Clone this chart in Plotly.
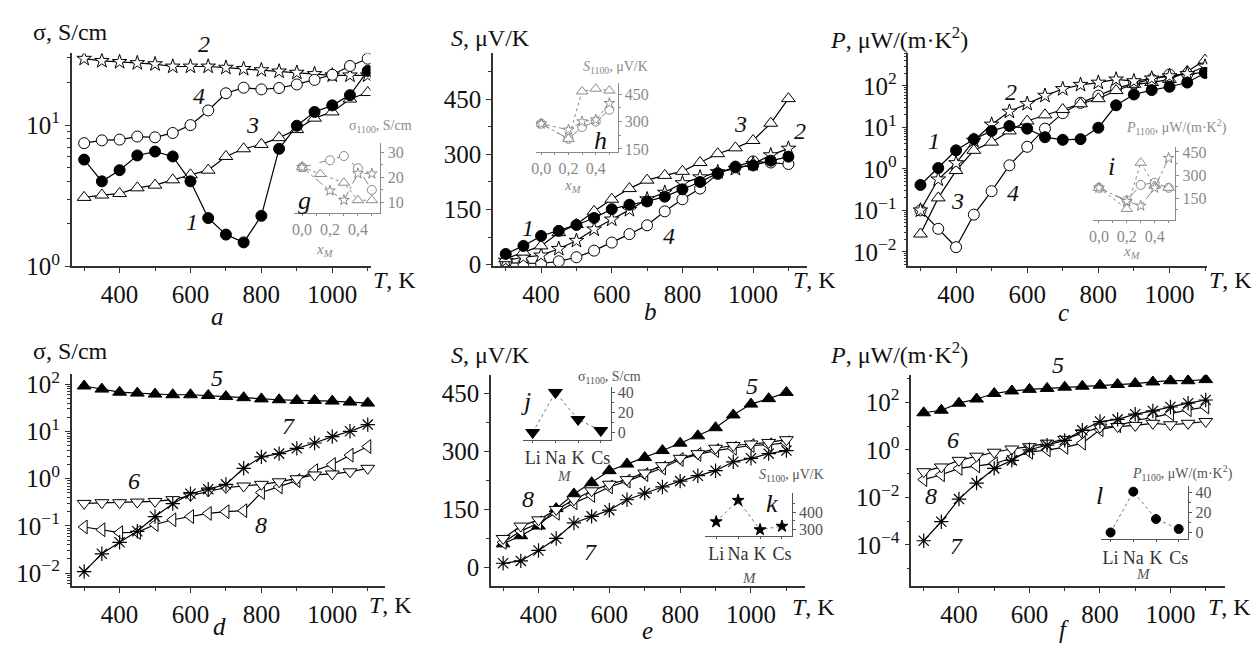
import plotly.graph_objects as go

W, H = 1253, 657
FONT = "Liberation Serif, Times New Roman, Times, serif"

# ---------------- data ----------------
T = [300, 350, 400, 450, 500, 550, 600, 650, 700, 750, 800, 850, 900, 950, 1000, 1050, 1100]

# panel a: sigma, S/cm
a1 = [5.7, 4.0, 4.8, 6.1, 6.5, 6.0, 4.0, 2.2, 1.68, 1.48, 2.28, 6.8, 9.9, 12.4, 13.8, 16.3, 24.2]
a2 = [29.5, 28.5, 28.0, 27.5, 27.0, 26.0, 26.0, 26.0, 25.5, 25.0, 24.5, 24.0, 23.5, 23.0, 22.5, 22.5, 22.5]
a3 = [3.08, 3.2, 3.28, 3.6, 3.76, 4.1, 4.45, 4.8, 6.0, 6.8, 7.3, 8.15, 9.3, 11.2, 12.4, 15.3, 17.0]
a4 = [7.45, 7.8, 7.9, 8.3, 8.2, 8.8, 10.0, 12.7, 16.8, 18.4, 17.9, 18.3, 19.4, 20.9, 22.7, 26.2, 29.5]

# panel b: S, uV/K
b1 = [29, 51, 78, 92, 108, 127, 151, 163, 172, 185, 205, 225, 249, 265, 270, 283, 294]
b2 = [11, 20, 25, 43, 65, 96, 123, 149, 178, 196, 222, 238, 252, 261, 274, 298, 316]
b3 = [16, 34, 51, 87, 109, 145, 178, 207, 230, 243, 254, 278, 302, 318, 338, 385, 452]
b4 = [5, 3, 3, 9, 20, 38, 60, 83, 107, 145, 178, 207, 247, 267, 281, 278, 274]

# panel c: P, uW/(m K^2)
c1 = [0.41, 1.05, 2.8, 5.2, 8.2, 10.8, 9.3, 5.8, 5.0, 5.2, 9.8, 34, 62, 79, 95, 120, 205]
c2 = [0.1, 0.56, 1.38, 4.8, 11.7, 24, 37, 58, 84, 106, 120, 143, 130, 151, 171, 193, 293]
c3 = [0.027, 0.2, 0.91, 2.8, 4.4, 8.2, 14.2, 20, 27, 37, 49, 77, 109, 120, 143, 223, 417]
c4 = [0.1, 0.036, 0.013, 0.079, 0.29, 1.22, 3.4, 9.3, 22, 39, 58, 88, 113, 143, 187, 190, 215]

# panel d: sigma, S/cm
d5 = [92, 79, 68, 65, 62, 60, 60, 58, 55, 52, 49, 47, 45.5, 45.5, 44, 42, 40]
d6 = [0.30, 0.31, 0.31, 0.32, 0.33, 0.36, 0.44, 0.55, 0.65, 0.70, 0.76, 0.86, 1.0, 1.2, 1.26, 1.4, 1.66]
d7 = [0.0108, 0.0257, 0.045, 0.077, 0.158, 0.296, 0.48, 0.6, 0.76, 1.66, 2.9, 3.4, 4.4, 5.7, 7.8, 10.1, 14]
d8 = [0.095, 0.083, 0.072, 0.073, 0.107, 0.135, 0.158, 0.184, 0.2, 0.21, 0.51, 0.67, 0.91, 1.48, 2.0, 3.15, 4.8]

# panel e: S, uV/K
e5 = [61, 82, 107, 152, 190, 219, 250, 267, 284, 302, 321, 340, 361, 394, 422, 436, 452]
e6 = [75, 107, 123, 150, 175, 198, 215, 227, 244, 263, 282, 294, 308, 315, 319, 323, 330]
e7 = [11, 17, 44, 75, 115, 132, 148, 175, 192, 208, 223, 237, 250, 273, 282, 294, 302]
e8 = [65, 94, 115, 140, 167, 186, 208, 223, 240, 257, 279, 292, 302, 308, 315, 317, 322]

# panel f: P, uW/(m K^2)
f5 = [36, 46, 91, 136, 232, 297, 347, 380, 430, 470, 520, 555, 610, 710, 800, 800, 890]
f6 = [0.12, 0.19, 0.36, 0.54, 0.79, 1.08, 1.35, 1.9, 2.75, 5.1, 9.0, 9.5, 10.6, 13, 11.3, 13, 15.5]
f7 = [1.5e-4, 9.5e-4, 8.5e-3, 0.04, 0.165, 0.36, 1.0, 1.57, 2.5, 6.6, 15.4, 19, 31.5, 43, 63, 91, 124]
f8 = [0.056, 0.089, 0.165, 0.21, 0.26, 0.45, 0.79, 1.0, 1.26, 1.9, 7.0, 10.2, 17, 23, 33, 48, 63]

# insets vs x_M
xM = [0.0, 0.2, 0.3, 0.4, 0.5]
xM_tri_g = [0.0, 0.13, 0.3, 0.4, 0.5]
g_circ = [24, 26.8, 28.5, 23.6, 14.9]
g_tri = [24, 21.3, 17.8, 10.8, 10.8]
g_star = [24, 14.6, 10.8, 21.5, 21.4]

h_tri = [288, 205, 465, 480, 470]
h_circ = [288, 205, 270, 300, 365]
h_star = [288, 255, 300, 310, 400]

i_circ = [217, 135, 236, 250, 217]
i_tri = [217, 80, 380, 230, 217]
i_star = [217, 130, 100, 217, 410]

# insets vs M
M = ["Li", "Na", "K", "Cs"]
j_sigma = [0, 40, 13, 2]
k_S = [345, 467, 300, 320]
l_P = [0, 41, 13.5, 3.5]

# inset tick values
g_ticks = [10, 20, 30]
h_ticks = [150, 300, 450]
i_ticks = [150, 300, 450]
j_ticks = [0, 20, 40]
k_ticks = [300, 400]
l_ticks = [0, 20, 40]

# ---------------- helpers ----------------
fig = go.Figure()
layout = {}

def xd(p0, p1):
    return [p0 / W, p1 / W]

def yd(ptop, pbot):
    return [1 - pbot / H, 1 - ptop / H]

def axname(n, kind):
    return kind + ("axis" if n == 1 else "axis%d" % n)

def ref(n, kind):
    return kind if n == 1 else "%s%d" % (kind, n)

def log_minor(lo, hi):
    vals = []
    for d in range(lo, hi + 1):
        for k in range(2, 10):
            vals.append(k * 10.0 ** d)
    return vals

AX = "#333"
TF = 25
def main_axes(n, xpx, ypx, xr, yr, ytype, yticks=None, ydtick=None, yminor=None, yminor_dtick=None):
    layout[axname(n, "x")] = dict(
        domain=xd(*xpx), range=xr, anchor=ref(n, "y"), showline=True, linecolor=AX, linewidth=1.5,
        ticks="outside", ticklen=5, tickwidth=1.3, tickcolor=AX, tick0=0, dtick=200,
        minor=dict(dtick=100, ticks="outside", ticklen=3, tickcolor=AX, tickwidth=1),
        tickfont=dict(family=FONT, size=TF, color="#111"), showgrid=False, zeroline=False)
    y = dict(domain=yd(*ypx), range=yr, anchor=ref(n, "x"), type=ytype, showline=True, linecolor=AX,
             linewidth=1.5, ticks="outside", ticklen=5, tickwidth=1.3, tickcolor=AX,
             tickfont=dict(family=FONT, size=TF, color="#111"), showgrid=False, zeroline=False)
    if yticks is not None:
        y["tickmode"] = "array"
        y["tickvals"] = yticks[0]
        y["ticktext"] = yticks[1]
    if ydtick is not None:
        y["tick0"] = 0
        y["dtick"] = ydtick
    if yminor is not None:
        y["minor"] = dict(tickmode="array", tickvals=yminor, ticks="outside", ticklen=3, tickcolor=AX, tickwidth=1)
    if yminor_dtick is not None:
        y["minor"] = dict(dtick=yminor_dtick, ticks="outside", ticklen=3, tickcolor=AX, tickwidth=1)
    layout[axname(n, "y")] = y

def inset_axes(n, xpx, ypx, xr, yr, yticks, xcat, color, fsize=16):
    xa = dict(domain=xd(*xpx), range=xr, anchor=ref(n, "y"), showline=True, linecolor=color, linewidth=1,
              ticks="outside", ticklen=2, tickcolor=color, tickfont=dict(family=FONT, size=fsize, color=color),
              showgrid=False, zeroline=False)
    if xcat:
        xa.update(tickmode="array", tickvals=[0, 1, 2, 3], ticktext=M,
                  tickfont=dict(family=FONT, size=18, color="#333"))
    else:
        xa.update(tickmode="array", tickvals=[0, 0.2, 0.4], ticktext=["0,0", "0,2", "0,4"],
                  minor=dict(tickmode="array", tickvals=[0.1, 0.3, 0.5], ticks="outside", ticklen=2, tickcolor=color))
    layout[axname(n, "x")] = xa
    step = yticks[1] - yticks[0]
    mvals = [v + step / 2 for v in [yticks[0] - step] + yticks]
    layout[axname(n, "y")] = dict(
        domain=yd(*ypx), range=yr, anchor=ref(n, "x"), side="right", showline=True, linecolor=color,
        linewidth=1, ticks="outside", ticklen=3, tickcolor=color, tickmode="array", tickvals=yticks,
        minor=dict(tickmode="array", tickvals=mvals, ticks="outside", ticklen=2, tickcolor=color),
        tickfont=dict(family=FONT, size=fsize, color=color), showgrid=False, zeroline=False)

def add(n, x, y, sym, fill, size, lc="black", lw=1.2, dash="solid", mlc="black", mlw=1.0):
    fig.add_trace(go.Scatter(
        x=x, y=y, xaxis=ref(n, "x"), yaxis=ref(n, "y"), mode="lines+markers",
        line=dict(color=lc, width=lw, dash=dash),
        marker=dict(symbol=sym, color=fill, size=size, line=dict(color=mlc, width=mlw)),
        showlegend=False, hoverinfo="skip"))

# ---------------- main axes ----------------
sup = lambda e: "10<sup>%s</sup>" % e
main_axes(1, (67, 367), (48, 268), [265, 1108], [0, 1.507], "log",
          yticks=([1, 10], [sup("0"), sup("1")]), yminor=log_minor(0, 1))
main_axes(2, (490, 805), (48, 268), [264, 1152], [-5, 575], "linear", ydtick=150, yminor_dtick=75)
main_axes(3, (907, 1207), (48, 268), [266, 1106], [-2.35, 2.78], "log",
          yticks=([0.01, 0.1, 1, 10, 100], [sup("−2"), sup("−1"), sup("0"), sup("1"), sup("2")]),
          yminor=log_minor(-3, 2))
main_axes(4, (67, 382), (379, 598), [265, 1150], [-2.27, 2.22], "log",
          yticks=([0.01, 0.1, 1, 10, 100], [sup("−2"), sup("−1"), sup("0"), sup("1"), sup("2")]),
          yminor=log_minor(-3, 2))
main_axes(5, (488, 803), (380, 598), [266, 1152], [-47.5, 497.5], "linear", ydtick=150, yminor_dtick=75)
main_axes(6, (910, 1225), (380, 598), [265, 1155], [-5.72, 3.15], "log",
          yticks=([1e-4, 1e-2, 1, 100], [sup("−4"), sup("−2"), sup("0"), sup("2")]),
          yminor=[10.0 ** d for d in range(-6, 4) if d not in (-4, -2, 0, 2)])

# ---------------- inset axes ----------------
GI = "#8a8a8a"
GJ = "#555"
inset_axes(7, (290, 377), (140, 213), [-0.059, 0.562], [5.6, 33.9], g_ticks, False, GI)
inset_axes(8, (533, 615), (78, 150), [-0.039, 0.56], [132, 514], h_ticks, False, GI)
inset_axes(9, (1092, 1175), (145, 220), [-0.045, 0.548], [8, 480], i_ticks, False, GI)
inset_axes(10, (520, 608), (393, 447), [-0.43, 3.43], [-7.2, 45], j_ticks, True, GJ)
inset_axes(11, (703, 790), (502, 546), [-0.5, 3.45], [267, 509], k_ticks, True, GJ)
inset_axes(12, (1100, 1188), (495, 550), [-0.44, 3.42], [-7, 46.5], l_ticks, True, GJ)

# ---------------- traces ----------------
K = "black"
WH = "white"
# a
add(1, T, a2, "star", WH, 11)
add(1, T, a4, "circle", WH, 11)
add(1, T, a3, "triangle-up", WH, 12)
add(1, T, a1, "circle", K, 11)
# b
add(2, T, b4, "circle", WH, 11)
add(2, T, b2, "star", WH, 11)
add(2, T, b3, "triangle-up", WH, 12)
add(2, T, b1, "circle", K, 11)
# c
add(3, T, c4, "circle", WH, 11)
add(3, T, c3, "triangle-up", WH, 12)
add(3, T, c2, "star", WH, 11)
add(3, T, c1, "circle", K, 11)
# d
add(4, T, d8, "triangle-left", WH, 12)
add(4, T, d6, "triangle-down", WH, 12)
add(4, T, d7, "asterisk-open", K, 12, mlw=1.2)
add(4, T, d5, "triangle-up", K, 12)
# e
add(5, T, e7, "asterisk-open", K, 12, mlw=1.2)
add(5, T, e5, "triangle-up", K, 12)
add(5, T, e8, "triangle-left", WH, 12)
add(5, T, e6, "triangle-down", WH, 12)
# f
add(6, T, f5, "triangle-up", K, 12)
add(6, T, f8, "triangle-left", WH, 12)
add(6, T, f6, "triangle-down", WH, 12)
add(6, T, f7, "asterisk-open", K, 12, mlw=1.2)
# insets g, h, i
for n, xs_t, circ, tri, star in [(7, xM_tri_g, g_circ, g_tri, g_star), (8, xM, h_circ, h_tri, h_star),
                                  (9, xM, i_circ, i_tri, i_star)]:
    add(n, xM, circ, "circle", WH, 9, lc=GI, lw=1, dash="dash", mlc=GI)
    add(n, xs_t, tri, "triangle-up", WH, 10, lc=GI, lw=1, dash="dot", mlc=GI)
    add(n, xM, star, "star", WH, 8, lc=GI, lw=1, dash="dashdot", mlc=GI)
# insets j, k, l
add(10, [0, 1, 2, 3], j_sigma, "triangle-down", K, 12, lc="#777", lw=1, dash="dot")
add(11, [0, 1, 2, 3], k_S, "star", K, 9, lc="#777", lw=1, dash="dot")
add(12, [0, 1, 2, 3], l_P, "circle", K, 9, lc="#777", lw=1, dash="dot")

# ---------------- annotations ----------------
anns = []
def ann(text, px, py, size=21, color="#111", xanchor="center"):
    anns.append(dict(text=text, x=px / W, y=1 - py / H, xref="paper", yref="paper", showarrow=False,
                     xanchor=xanchor, yanchor="middle", font=dict(family=FONT, size=size, color=color)))

# axis titles
for px, py in [(26, 26), (26, 355)]:
    ann("σ, S/cm", px, py, 24, xanchor="left")
for px, py in [(446, 32), (446, 359)]:
    ann("<i>S</i>, μV/K", px, py, 24, xanchor="left")
for px, py in [(826, 32), (826, 357)]:
    ann("<i>P</i>, μW/(m·K<sup>2</sup>)", px, py, 24, xanchor="left")
for px, py in [(367, 282), (789, 282), (1207, 282), (363, 618), (788, 620), (1206, 620)]:
    ann("<i>T</i>, K", px, py, 24, xanchor="left")
# panel letters
for t, px, py in [("a", 213, 320), ("b", 648, 315), ("c", 1063, 316),
                  ("d", 215, 640), ("e", 645, 644), ("f", 1063, 643)]:
    ann("<i>%s</i>" % t, px, py, 25)
# curve labels
for t, px, py in [("2", 200, 38), ("4", 195, 92), ("3", 248, 122), ("1", 188, 222),
                  ("1", 525, 228), ("3", 738, 121), ("2", 798, 128), ("4", 667, 237),
                  ("2", 1010, 88), ("1", 933, 138), ("3", 956, 200), ("4", 1012, 192),
                  ("5", 213, 383), ("7", 285, 433), ("6", 130, 490), ("8", 257, 535),
                  ("5", 750, 392), ("8", 525, 508), ("7", 588, 563),
                  ("5", 1057, 370), ("6", 952, 447), ("8", 930, 505), ("7", 955, 557)]:
    ann("<i>%s</i>" % t, px, py, 24)
# inset letters
for t, px, py in [("g", 301, 200), ("h", 598, 138), ("i", 1111, 165),
                  ("j", 523, 408), ("k", 770, 513), ("l", 1099, 505)]:
    ann("<i>%s</i>" % t, px, py, 26)
# inset titles
ann("σ<sub>1100</sub>, S/cm", 377, 123, 14, GI)
ann("<i>S</i><sub>1100</sub>, μV/K", 613, 62, 14, GI)
ann("<i>P</i><sub>1100</sub>, μW/(m·K<sup>2</sup>)", 1176, 124, 14, GI)
ann("σ<sub>1100</sub>, S/cm", 607, 383, 14, GJ)
ann("<i>S</i><sub>1100</sub>, μV/K", 790, 484, 14, GJ)
ann("<i>P</i><sub>1100</sub>, μW/(m·K<sup>2</sup>)", 1182, 481, 14, GJ)
for px, py in [(321, 251), (570, 185), (1132, 253)]:
    ann("<i>x</i><sub><i>M</i></sub>", px, py, 15, GI)
for px, py in [(562, 484), (747, 590), (1143, 586)]:
    ann("<i>M</i>", px, py, 15, GJ)

layout["annotations"] = anns
fig.update_layout(width=W, height=H, margin=dict(l=0, r=0, t=0, b=0), plot_bgcolor="white",
                  paper_bgcolor="white", showlegend=False, **layout)
fig.write_html("out.html", config={"displayModeBar": False},
               post_script="document.body.style.margin='0px';document.body.style.overflow='hidden';")
